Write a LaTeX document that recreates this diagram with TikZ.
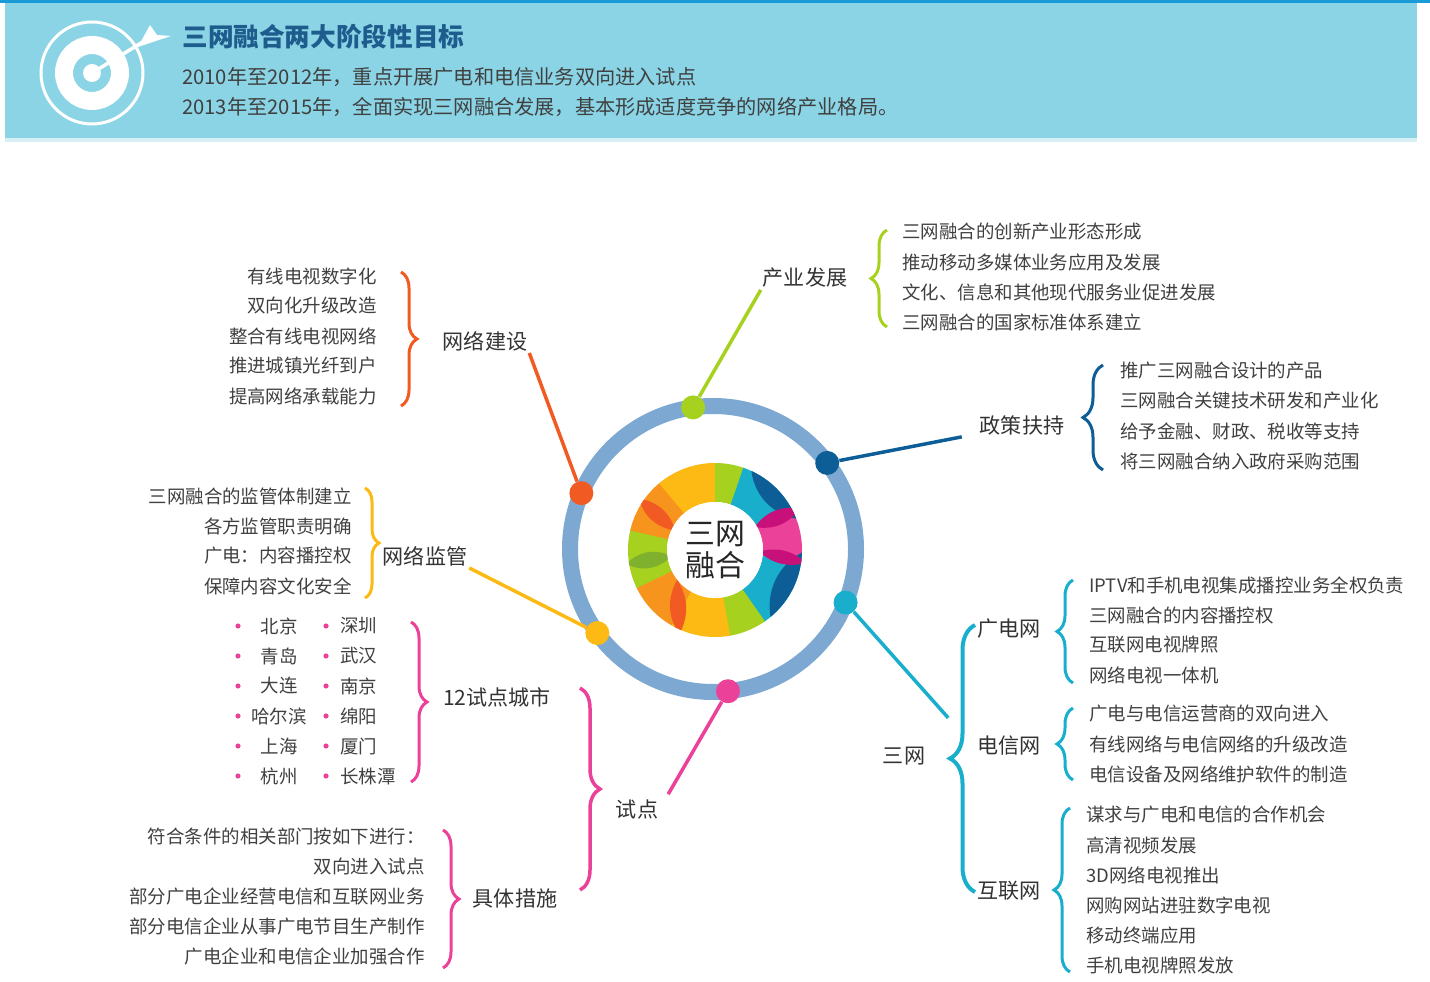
\documentclass[tikz,border=0pt]{standalone}
\usepackage{fontspec}
\setmainfont{Noto Sans CJK SC}
\usetikzlibrary{positioning,decorations.pathreplacing}

\definecolor{headbg}{HTML}{8AD4E5}
\definecolor{headline}{HTML}{1B9AD8}
\definecolor{titleblue}{HTML}{1D5C8C}
\definecolor{ringblue}{HTML}{7DA8D1}
\definecolor{cOrange}{HTML}{F15A22}
\definecolor{cAmber}{HTML}{F7941D}
\definecolor{cYellow}{HTML}{FDB914}
\definecolor{cGreen}{HTML}{A6D11F}
\definecolor{cLeaf}{HTML}{7FB12E}
\definecolor{cNavy}{HTML}{0D5E96}
\definecolor{cCyan}{HTML}{19AECB}
\definecolor{cPink}{HTML}{EC4199}
\definecolor{cMagenta}{HTML}{C8107A}
\definecolor{txtgray}{HTML}{404040}

\def\cx{713}        % centre of the blue ring
\def\cy{549}
\def\ringr{143}     % radius of the blue ring
\def\outr{87}       % colour wheel, outer radius
\def\inr{48}        % colour wheel, inner radius

\tikzset{
  item/.style={font=\fontsize{10.5}{12}\selectfont, text=txtgray, inner sep=0pt},
  topic/.style={font=\fontsize{12}{14}\selectfont, text=black!80, inner sep=1pt},
  headtxt/.style={font=\fontsize{11.5}{13}\selectfont, text=black!75, inner sep=0pt, anchor=west},
  hub/.style={circle, inner sep=0pt, minimum size=0.48cm},
  spoke/.style={line width=0.07cm},
  curly/.style={decorate, decoration={brace, amplitude=#1}, line width=0.06cm},
  curly/.default=0.32cm,
}

\begin{document}
\begin{tikzpicture}[x=0.02cm, y=-0.02cm]
  \useasboundingbox (0,0) rectangle (1430,982);

  % header band
  \fill[headline] (0,0) rectangle (1430,3);
  \fill[headbg] (5,3) rectangle (1417,138);
  \fill[headbg!35] (5,138) rectangle (1417,142);

  % target and dart
  \coordinate (goal) at (92,73);
  \draw[white, line width=0.06cm] (goal) circle (51);
  \draw[white, line width=0.36cm] (goal) circle (28);
  \fill[white] (goal) circle (9);
  \draw[white, line width=0.07cm] (goal) -- (146,40);
  \fill[white] (138,47) -- (150,25) -- (157,35) -- (171,36) -- cycle;

  \node[anchor=west, inner sep=0pt, text=titleblue,
        font=\fontsize{14.6}{16}\selectfont\bfseries] (title) at (182,37) {三网融合两大阶段性目标};
  \node[headtxt] (stage1) at (182,77) {2010年至2012年，重点开展广电和电信业务双向进入试点};
  \node[headtxt] (stage2) at (182,107) {2013年至2015年，全面实现三网融合发展，基本形成适度竞争的网络产业格局。};

  % blue ring
  \coordinate (hubc) at (\cx,\cy);
  \draw[ringblue, line width=0.32cm] (hubc) circle (\ringr);

  % colour wheel
  \coordinate (core) at (715,550);
  \foreach \col/\a/\b in {cPink/-31/8, cCyan/7/56, cGreen/55/81, cYellow/80/121,
                          cAmber/120/155, cGreen/154/194, cAmber/193/231,
                          cYellow/230/271, cGreen/270/290, cCyan/289/330}
    \fill[\col] ([shift={(\a:\outr)}]core) arc (\a:\b:\outr)
      -- ([shift={(\b:\inr)}]core) arc (\b:\a:\inr) -- cycle;
  \begin{scope}
    \clip (core) circle (\outr);
    % darker leaves where the petals overlap
    \foreach \col/\a/\ra/\b/\rb/\bend in {cNavy/293/92/340/90/40, cNavy/0/92/52/92/40,
                                          cMagenta/-30/46/-26/94/32, cMagenta/2/44/8/92/28,
                                          cOrange/214/92/206/44/32, cOrange/142/48/113/92/30,
                                          cLeaf/171/90/172/44/36}
      \fill[\col] ([shift={(\a:\ra)}]core) to[bend left=\bend] ([shift={(\b:\rb)}]core)
        to[bend left=\bend] ([shift={(\a:\ra)}]core);
  \end{scope}
  \fill[white] (core) circle (\inr);
  \node[font=\fontsize{17}{18}\selectfont, align=center, text=black!85, inner sep=0pt]
    (coretxt) at (core) {三网\\融合};

  % dots on the ring
  \foreach \name/\col/\ang in {dIndustry/cGreen/-98, dPolicy/cNavy/-37, dBuild/cOrange/-157,
                               dWatch/cYellow/144, dPilot/cPink/84, dNets/cCyan/22}
    \node[hub, fill=\col] (\name) at ([shift={(\ang:\ringr)}]hubc) {};

  % topic labels
  \node[topic] (industry) at (805,278) {产业发展};
  \node[topic] (policy) at (1022,425) {政策扶持};
  \node[topic] (build) at (485,341) {网络建设};
  \node[topic] (watch) at (425,556) {网络监管};
  \node[topic] (cities) at (497,697) {12试点城市};
  \node[topic] (pilot) at (637,809) {试点};
  \node[topic] (steps) at (515,898) {具体措施};
  \node[topic] (nets) at (904,756) {三网};
  \node[topic] (radio) at (1009,629) {广电网};
  \node[topic] (telecom) at (1009,746) {电信网};
  \node[topic] (web) at (1009,891) {互联网};

  % spokes from the ring
  \draw[spoke, cGreen] (dIndustry) -- (industry.south west);
  \draw[spoke, cNavy] (dPolicy) -- ([xshift=-0.32cm]policy.south west);
  \draw[spoke, cOrange] (dBuild) -- (build.south east);
  \draw[spoke, cYellow] (dWatch) -- (watch.south east);
  \draw[spoke, cPink] (dPilot) -- ([shift={(0.16cm,0.06cm)}]pilot.north east);
  \draw[spoke, cCyan] (dNets) -- ([shift={(0.42cm,0.54cm)}]nets.north east);

  % braces
  \draw[curly, cGreen] (887,327) -- (887,230);
  \draw[curly=0.4cm, cNavy] (1103,470) -- (1103,365);
  \draw[curly, cOrange] (401,272) -- (401,406);
  \draw[curly=0.28cm, cYellow] (365,488) -- (365,598);
  \draw[curly, cPink] (411,622) -- (411,782);
  \draw[curly, cPink] (443,830) -- (443,968);
  \draw[curly=0.4cm, cPink, line width=0.07cm] (580,688) -- (580,890);
  \draw[curly=0.5cm, cCyan, line width=0.08cm] (975,892) -- (975,625);
  \draw[curly, cCyan] (1073,683) -- (1073,580);
  \draw[curly, cCyan] (1073,780) -- (1073,708);
  \draw[curly, cCyan] (1070,972) -- (1070,808);

  % industry
  \foreach \txt [count=\i from 0] in {三网融合的创新产业形态形成, 推动移动多媒体业务应用及发展,
                                       文化、信息和其他现代服务业促进发展, 三网融合的国家标准体系建立}
    \node[item, anchor=west] (ind\i) at (902,232+30*\i) {\txt};
  % policy
  \foreach \txt [count=\i from 0] in {推广三网融合设计的产品, 三网融合关键技术研发和产业化,
                                       给予金融、财政、税收等支持, 将三网融合纳入政府采购范围}
    \node[item, anchor=west] (pol\i) at (1120,371+30*\i) {\txt};
  % network building
  \foreach \txt [count=\i from 0] in {有线电视数字化, 双向化升级改造, 整合有线电视网络,
                                       推进城镇光纤到户, 提高网络承载能力}
    \node[item, anchor=east] (bld\i) at (377,276+30*\i) {\txt};
  % supervision
  \foreach \txt [count=\i from 0] in {三网融合的监管体制建立, 各方监管职责明确,
                                       广电：内容播控权, 保障内容文化安全}
    \node[item, anchor=east] (wat\i) at (352,496+30*\i) {\txt};
  % pilot cities, two columns
  \foreach \west/\east [count=\i from 0] in {北京/深圳, 青岛/武汉, 大连/南京,
                                              哈尔滨/绵阳, 上海/厦门, 杭州/长株潭} {
    \fill[cPink] (238,626+30*\i) circle (2.6);
    \fill[cPink] (326,626+30*\i) circle (2.6);
    \node[item] (cw\i) at (279,626+30*\i) {\west};
    \node[item, anchor=west] (ce\i) at (340,626+30*\i) {\east};
  }
  % concrete steps
  \foreach \txt [count=\i from 0] in {符合条件的相关部门按如下进行：, 双向进入试点,
                                       部分广电企业经营电信和互联网业务, 部分电信企业从事广电节目生产制作,
                                       广电企业和电信企业加强合作}
    \node[item, anchor=east] (stp\i) at (425,836+30*\i) {\txt};
  % the three networks
  \foreach \txt [count=\i from 0] in {IPTV和手机电视集成播控业务全权负责, 三网融合的内容播控权,
                                       互联网电视牌照, 网络电视一体机}
    \node[item, anchor=west] (rad\i) at (1089,585+30*\i) {\txt};
  \foreach \txt [count=\i from 0] in {广电与电信运营商的双向进入, 有线网络与电信网络的升级改造,
                                       电信设备及网络维护软件的制造}
    \node[item, anchor=west] (tel\i) at (1089,714+30*\i) {\txt};
  \foreach \txt [count=\i from 0] in {谋求与广电和电信的合作机会, 高清视频发展, 3D网络电视推出,
                                       网购网站进驻数字电视, 移动终端应用, 手机电视牌照发放}
    \node[item, anchor=west] (web\i) at (1086,815+30*\i) {\txt};
\end{tikzpicture}
\end{document}
